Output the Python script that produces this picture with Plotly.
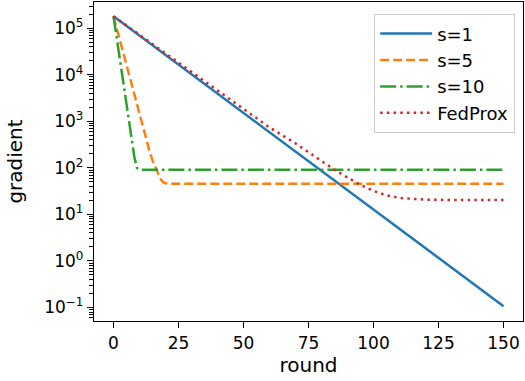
import plotly.graph_objects as go

# ---- data ----
s1_round = [0, 150]
s1_grad = [181000, 0.107]

s5_round = [0, 12, 13, 14, 15, 16, 17, 18, 19, 20, 21, 150]
s5_grad = [181000, 532, 331, 214, 145, 107, 76, 59, 50, 46.8, 45.7, 45.7]

s10_round = [0, 1, 2, 3, 4, 5, 6, 7, 8, 9, 10, 150]
s10_grad = [181000, 75500, 31500, 13100, 5470, 2280, 950, 396, 174, 100, 91.4, 91.4]

fp_round = [0, 10, 20, 30, 40, 50, 60, 70, 80, 85, 90, 95, 100, 105, 110, 115, 120, 130, 140, 150]
fp_grad = [181000, 72000, 29000, 11600, 4600, 1850, 740, 337, 140, 91, 62, 43, 32, 25.7, 22.6, 21.3, 20.8, 20.4, 20.3, 20.3]

x_ticks = [0, 25, 50, 75, 100, 125, 150]
y_ticks = [0.1, 1, 10, 100, 1000, 10000, 100000]
y_tick_text = ["10<sup>\u22121</sup>", "10<sup>0</sup>", "10<sup>1</sup>", "10<sup>2</sup>",
               "10<sup>3</sup>", "10<sup>4</sup>", "10<sup>5</sup>"]
y_minor = [m * 10 ** k for k in range(-2, 6) for m in range(2, 10)]

series = [
    ("s=1", s1_round, s1_grad, "#1f77b4", "solid"),
    ("s=5", s5_round, s5_grad, "#ff7f0e", "9px,4px"),
    ("s=10", s10_round, s10_grad, "#2ca02c", "16px,4px,2.5px,4px"),
    ("FedProx", fp_round, fp_grad, "#d62728", "2.5px,4.2px"),
]

fig = go.Figure()
for name, xs, ys, color, dash in series:
    fig.add_trace(go.Scatter(x=xs, y=ys, mode="lines", name=name, legendgroup=name,
                             line=dict(color=color, width=2.5, dash=dash)))

font = "DejaVu Sans"
fig.update_layout(
    width=525, height=381,
    margin=dict(l=94, r=2, t=2, b=60),
    plot_bgcolor="white", paper_bgcolor="white",
    font=dict(family=font, size=17, color="black"),
    showlegend=True,
    legend=dict(x=0.981, y=0.962, xanchor="right", yanchor="top",
                bgcolor="rgba(255,255,255,0.8)", bordercolor="#cccccc", borderwidth=1.3,
                font=dict(size=18), tracegroupgap=0, itemwidth=52),
    xaxis=dict(range=[-7.5, 157.5], tickvals=x_ticks, ticks="outside", ticklen=6,
               tickwidth=1.2, tickcolor="black", showgrid=False, zeroline=False,
               showline=True, linecolor="black", linewidth=1.4, mirror=True,
               title=dict(text="round", standoff=6), automargin=False),
    yaxis=dict(type="log", range=[-1.29, 5.565], tickvals=y_ticks, ticktext=y_tick_text,
               ticks="outside", ticklen=6, tickwidth=1.2, tickcolor="black",
               showgrid=False, zeroline=False, showline=True, linecolor="black",
               linewidth=1.4, mirror=True,
               minor=dict(tickmode="array", tickvals=y_minor, ticks="outside",
                          ticklen=3.5, tickwidth=1, tickcolor="black", showgrid=False),
               title=dict(text="gradient", standoff=16), automargin=False),
)

fig.write_html("out.html")
